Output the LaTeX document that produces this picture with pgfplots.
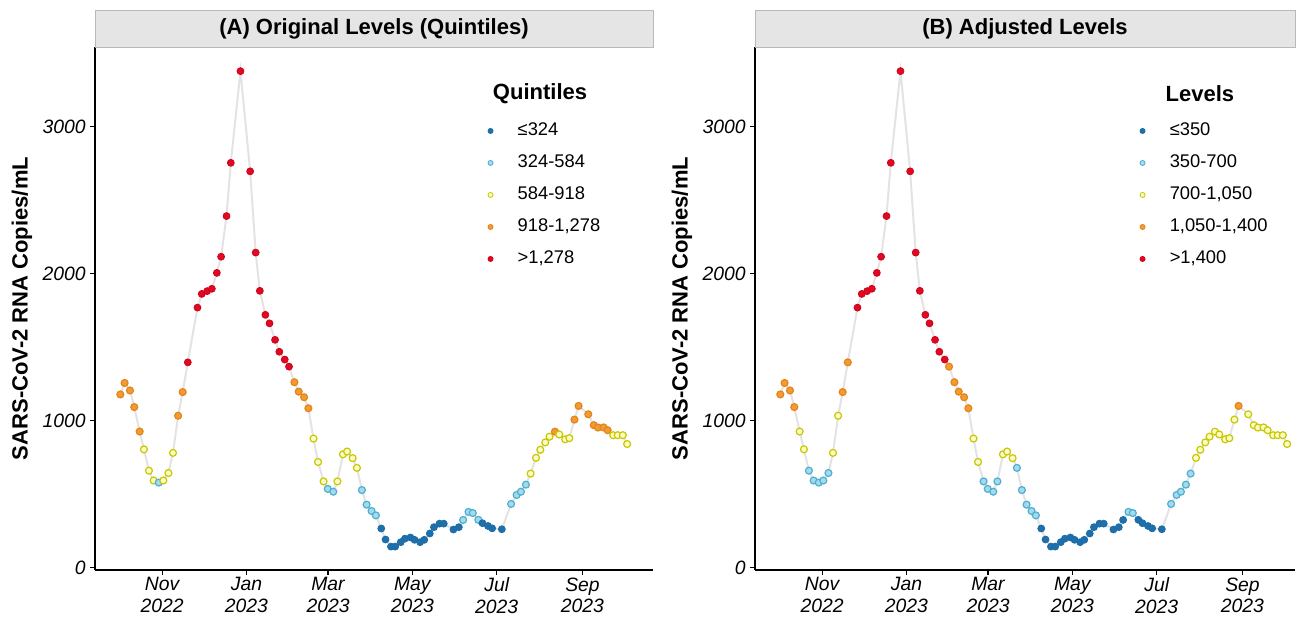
\documentclass[border=0pt]{standalone}
\usepackage{pgfplots}
\pgfplotsset{compat=1.18}
\usepackage{pgfplotstable}
\usepackage{fontspec}
\setmainfont{Liberation Sans}

\definecolor{cAd}{HTML}{1C6CA6}\definecolor{cAf}{HTML}{1F70AA}
\definecolor{cBd}{HTML}{4FAFD1}\definecolor{cBf}{HTML}{A3DAEC}
\definecolor{cCd}{HTML}{C8C800}\definecolor{cCf}{HTML}{FBFBC8}
\definecolor{cDd}{HTML}{E3861A}\definecolor{cDf}{HTML}{F29A34}
\definecolor{cEd}{HTML}{D5001C}\definecolor{cEf}{HTML}{DC0A22}
\definecolor{lineg}{HTML}{E3E3E3}
\definecolor{stripg}{HTML}{E5E5E5}

\pgfplotstableread{
day val ca cb
-30.2 1179 d d
-27.1 1257 d d
-23.2 1206 d d
-20.1 1093 d d
-16.2 927 d c
-13.1 806 c c
-9.5 661 c b
-6.1 594 c b
-2.4 580 b b
0.9 594 c b
4.6 645 c b
7.9 782 c c
11.6 1034 d c
14.9 1195 d d
18.6 1397 e d
25.6 1769 e e
28.7 1862 e e
32.6 1881 e e
36.0 1897 e e
39.6 2005 e e
42.7 2115 e e
46.6 2391 e e
49.7 2753 e e
56.7 3376 e e
63.7 2695 e e
67.7 2143 e e
70.7 1883 e e
74.7 1720 e e
77.7 1662 e e
81.7 1550 e e
84.8 1469 e e
88.7 1416 e e
91.8 1368 e d
95.7 1262 d d
98.8 1198 d d
102.7 1160 d d
105.8 1085 d d
109.5 879 c c
112.8 720 c c
116.8 588 c b
119.8 537 b b
123.8 518 b b
126.8 588 c b
130.8 772 c c
133.8 791 c c
137.8 746 c c
140.9 680 c b
144.5 529 b b
147.9 430 b b
151.5 387 b b
154.6 357 b b
158.5 268 a a
161.6 193 a a
165.5 145 a a
168.6 145 a a
172.6 175 a a
175.6 199 a a
179.6 207 a a
182.6 191 a a
186.6 175 a a
189.6 191 a a
193.6 234 a a
196.6 277 a a
200.6 301 a a
203.7 301 a a
210.7 261 a a
214.6 277 a a
217.7 326 b a
221.6 381 b b
224.7 373 b b
228.7 327 b a
231.7 304 a a
235.7 285 a a
238.7 269 a a
245.7 263 a a
252.4 435 b b
256.4 496 b b
259.5 518 b b
263.1 566 b b
266.5 641 c b
270.4 748 c c
273.5 803 c c
277.1 853 c c
280.2 892 c c
284.1 926 d c
287.2 907 c c
291.5 874 c c
294.5 882 c c
298.2 1008 d c
301.2 1101 d d
308.2 1044 d c
312.2 970 d c
315.2 954 d c
319.2 955 d c
322.2 936 d c
326.2 902 c c
329.5 902 c c
333.2 902 c c
336.3 842 c c
}\datatable

\pgfplotsset{
  myax/.style={
    scale only axis, height=392.25pt,
    xmin=-48.5, ymin=-14, ymax=3540,
    axis x line*=bottom, axis y line*=left,
    axis line style={line width=1.1pt, black, -},
    every tick/.style={black, line width=0.8pt},
    tick align=outside, major tick length=3.75pt,
    xtick={0,61,120,181,242,304},
    xticklabels={{Nov\\2022},{Jan\\2023},{Mar\\2023},{May\\2023},{Jul\\2023},{Sep\\2023}},
    ytick={0,1000,2000,3000},
    yticklabels={0,1000,2000,3000},
    ticklabel style={font=\fontsize{14.5}{16.3}\selectfont\itshape},
    xticklabel style={align=center, inner sep=1.8pt},
    yticklabel style={inner sep=3pt},
    clip=false,
    ylabel={SARS-CoV-2 RNA Copies/mL},
    legend image code/.code={\draw[mark repeat=2, mark phase=2, ##1] plot coordinates {(-6pt,0pt) (0pt,0pt) (6pt,0pt)};},
    legend cell align=left,
    legend style={draw=none, fill=none, inner sep=0pt, outer sep=0pt, row sep=11pt, column sep=18.5pt,
      font=\fontsize{13.75}{16}\selectfont, anchor=north west,
      nodes={inner sep=0pt, text height=10pt, text depth=3pt}},
    scatter/classes={
      a={mark=*, draw=cAd, fill=cAf, line width=0.6pt},
      b={mark=*, draw=cBd, fill=cBf, line width=0.9pt},
      c={mark=*, draw=cCd, fill=cCf, line width=0.9pt},
      d={mark=*, draw=cDd, fill=cDf, line width=0.9pt},
      e={mark=*, draw=cEd, fill=cEf, line width=0.6pt}},
  },
  lg/.style={only marks, mark=*, mark size=1.9pt, line width=0.6pt},
}

\begin{document}
\begin{tikzpicture}
\useasboundingbox (0,0) rectangle (977.25pt,465pt);

% ---------- Panel A ----------
\begin{axis}[myax, width=418.5pt, xmax=355,
  at={(71.25pt,37.5pt)}, anchor=south west,
  every axis y label/.style={at={(axis description cs:-0.1308,0.5)}, rotate=90, anchor=center,
    font=\fontsize{16.5}{18}\selectfont\bfseries},
  legend style={at={(0.7043,0.856)}}]
\draw[fill=stripg, draw=gray!55, line width=0.5pt] (rel axis cs:0,1) rectangle (rel axis cs:1,1.0707);
\node[font=\fontsize{16.5}{18}\selectfont\bfseries] at (rel axis cs:0.5,1.0354) {(A) Original Levels (Quintiles)};
\addplot[draw=lineg, line width=1.5pt, no marks, forget plot] table[x=day,y=val]{\datatable};
\addplot[scatter, only marks, scatter src=explicit symbolic, mark size=2.6pt, forget plot]
  table[x=day,y=val,meta=ca]{\datatable};
\addlegendimage{lg, draw=cAd, fill=cAf}\addlegendentry{≤324}
\addlegendimage{lg, draw=cBd, fill=cBf}\addlegendentry{324-584}
\addlegendimage{lg, draw=cCd, fill=cCf}\addlegendentry{584-918}
\addlegendimage{lg, draw=cDd, fill=cDf}\addlegendentry{918-1,278}
\addlegendimage{lg, draw=cEd, fill=cEf}\addlegendentry{>1,278}
\node[font=\fontsize{16.5}{18}\selectfont\bfseries] at (rel axis cs:0.7975,0.910) {Quintiles};
\end{axis}

% ---------- Panel B ----------
\begin{axis}[myax, width=405pt, xmax=342,
  at={(566.25pt,37.5pt)}, anchor=south west,
  every axis y label/.style={at={(axis description cs:-0.1352,0.5)}, rotate=90, anchor=center,
    font=\fontsize{16.5}{18}\selectfont\bfseries},
  legend style={at={(0.7130,0.856)}}]
\draw[fill=stripg, draw=gray!55, line width=0.5pt] (rel axis cs:0,1) rectangle (rel axis cs:1,1.0707);
\node[font=\fontsize{16.5}{18}\selectfont\bfseries] at (rel axis cs:0.5,1.0354) {(B) Adjusted Levels};
\addplot[draw=lineg, line width=1.5pt, no marks, forget plot] table[x=day,y=val]{\datatable};
\addplot[scatter, only marks, scatter src=explicit symbolic, mark size=2.6pt, forget plot]
  table[x=day,y=val,meta=cb]{\datatable};
\addlegendimage{lg, draw=cAd, fill=cAf}\addlegendentry{≤350}
\addlegendimage{lg, draw=cBd, fill=cBf}\addlegendentry{350-700}
\addlegendimage{lg, draw=cCd, fill=cCf}\addlegendentry{700-1,050}
\addlegendimage{lg, draw=cDd, fill=cDf}\addlegendentry{1,050-1,400}
\addlegendimage{lg, draw=cEd, fill=cEf}\addlegendentry{>1,400}
\node[font=\fontsize{16.5}{18}\selectfont\bfseries] at (rel axis cs:0.824,0.910) {Levels};
\end{axis}
\end{tikzpicture}
\end{document}
